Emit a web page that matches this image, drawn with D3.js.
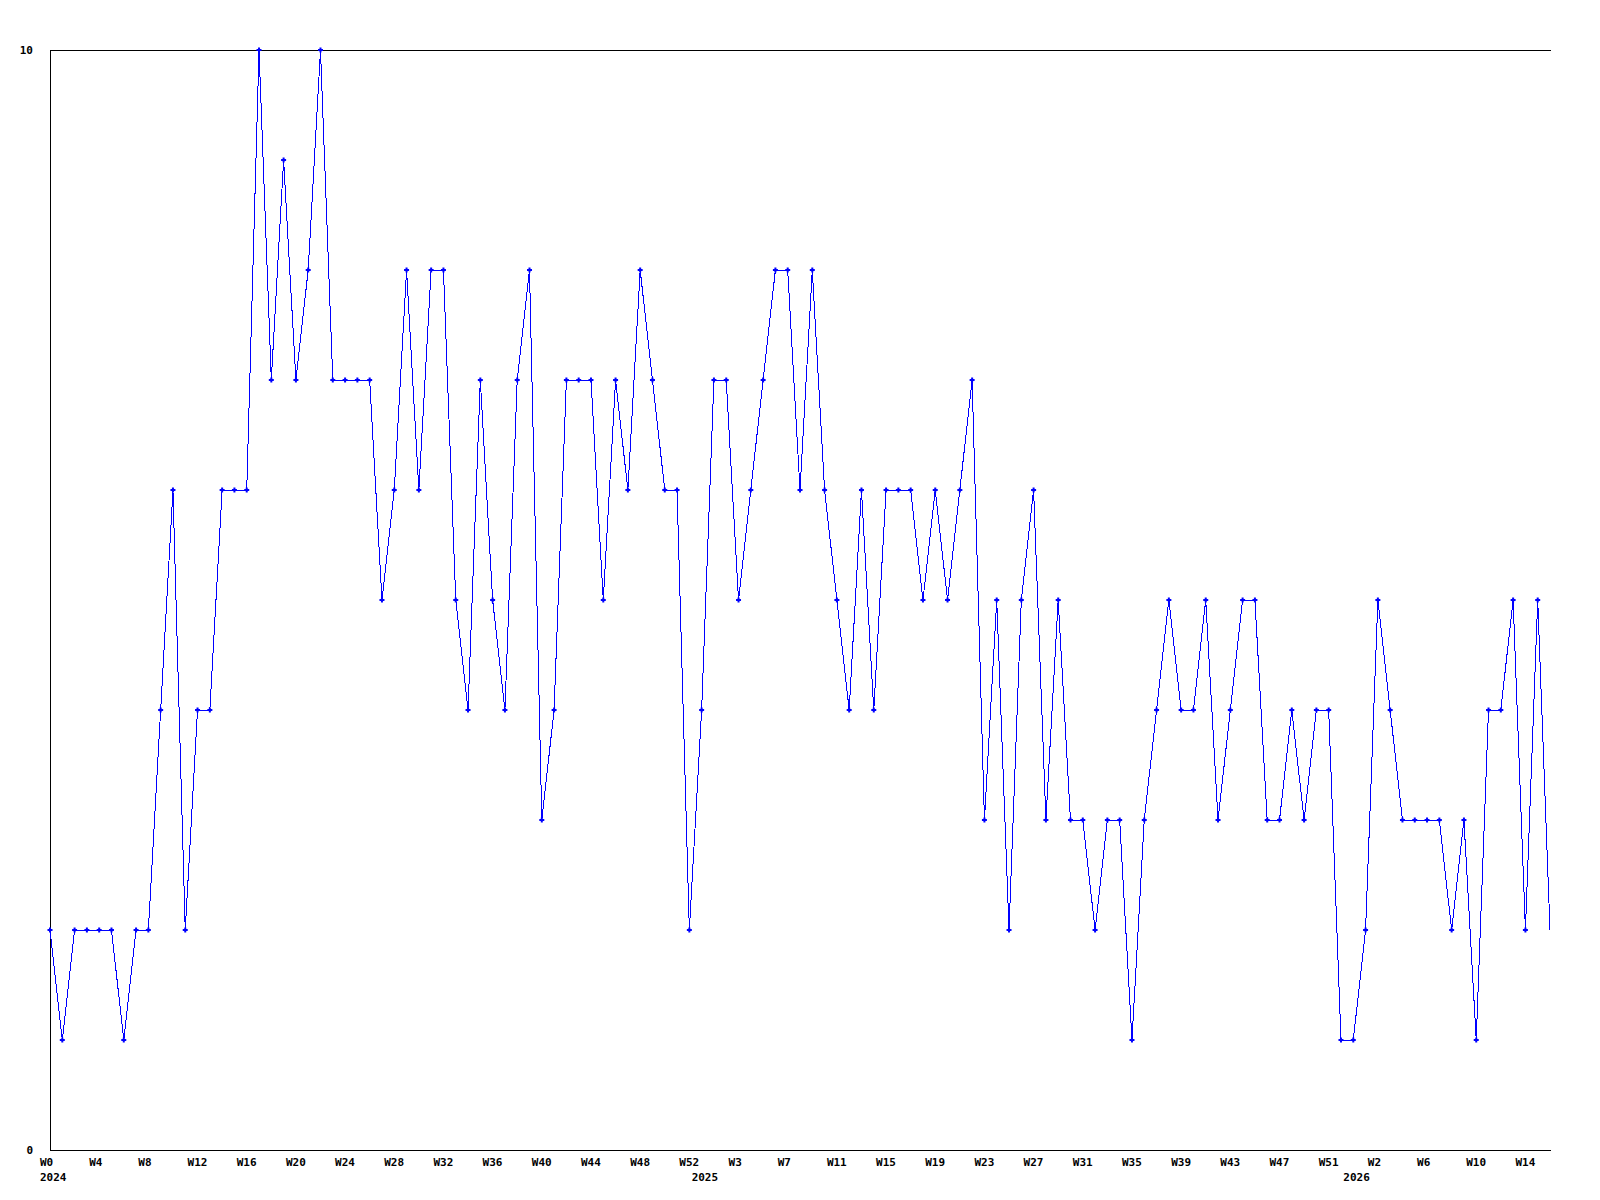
<!DOCTYPE html>
<html>
<head>
<meta charset="utf-8">
<script src="https://cdn.jsdelivr.net/npm/d3@7"></script>
<style>
  html, body { margin: 0; padding: 0; background: #fff; }
  svg { display: block; }
  text { font-family: "DejaVu Sans Mono", "Liberation Mono", monospace; font-weight: bold; font-size: 11px; fill: #000; }
</style>
</head>
<body>
<svg id="chart" width="1600" height="1200"></svg>
<script>
// ---- data ----
const years = ["2024", "2025", "2026"];
const weeksPerYear = [53, 53, 17];
const values = [
  2, 1, 2, 2, 2, 2, 1, 2, 2, 4, 6, 2, 4, 4, 6, 6, 6, 10, 7, 9,
  7, 8, 10, 7, 7, 7, 7, 5, 6, 8, 6, 8, 8, 5, 4, 7, 5, 4, 7, 8,
  3, 4, 7, 7, 7, 5, 7, 6, 8, 7, 6, 6, 2,
  4, 7, 7, 5, 6, 7, 8, 8, 6, 8, 6, 5, 4, 6, 4, 6, 6, 6, 5, 6,
  5, 6, 7, 3, 5, 2, 5, 6, 3, 5, 3, 3, 2, 3, 3, 1, 3, 4, 5, 4,
  4, 5, 3, 4, 5, 5, 3, 3, 4, 3, 4, 4, 1,
  1, 2, 5, 4, 3, 3, 3, 3, 2, 3, 1, 4, 4, 5, 2, 5, 2
];
const tickLabels = ["W0","W4","W8","W12","W16","W20","W24","W28","W32","W36","W40","W44","W48","W52",
  "W3","W7","W11","W15","W19","W23","W27","W31","W35","W39","W43","W47","W51",
  "W2","W6","W10","W14"];
const yTickLabels = ["0", "10"];
const yDomain = [0, 10];

// ---- build categories ----
const categories = [];
years.forEach((yr, yi) => {
  for (let w = 0; w < weeksPerYear[yi]; w++) categories.push({ key: yr + "-W" + w, year: yr, week: w });
});
const data = categories.map((c, i) => ({ key: c.key, year: c.year, week: c.week, value: values[i] }));

// ---- layout ----
const plotLeft = 50, plotRight = 1550, plotTop = 50, plotBottom = 1150;
const svg = d3.select("#chart");

const x = d3.scalePoint().domain(categories.map(c => c.key)).range([plotLeft, plotRight]);
const y = d3.scaleLinear().domain(yDomain).range([plotBottom, plotTop]);

// frame: left, top, bottom
const frame = svg.append("g").attr("shape-rendering", "crispEdges").attr("stroke", "#000").attr("stroke-width", 1);
frame.append("line").attr("x1", plotLeft + 0.5).attr("x2", plotLeft + 0.5).attr("y1", plotTop).attr("y2", plotBottom + 1);
frame.append("line").attr("x1", plotLeft).attr("x2", plotRight + 1).attr("y1", y(yDomain[1]) + 0.5).attr("y2", y(yDomain[1]) + 0.5);
frame.append("line").attr("x1", plotLeft).attr("x2", plotRight + 1).attr("y1", y(yDomain[0]) + 0.5).attr("y2", y(yDomain[0]) + 0.5);

// y labels
svg.append("g").selectAll("text").data(yTickLabels).join("text")
  .attr("x", 33).attr("y", d => y(+d) + 4)
  .attr("text-anchor", "end")
  .text(d => d);

// x tick labels (every 4th week)
const tickCats = categories.filter((c, i) => i % 4 === 0);
svg.append("g").selectAll("text").data(tickCats).join("text")
  .attr("x", d => x(d.key) - 10).attr("y", plotBottom + 16)
  .text((d, i) => tickLabels[i]);

// year labels at first week of each year
const yearCats = years.map(yr => categories.find(c => c.year === yr));
svg.append("g").selectAll("text").data(yearCats).join("text")
  .attr("x", d => x(d.key) - 10).attr("y", plotBottom + 31)
  .text(d => d.year);

// line
const line = d3.line().x(d => x(d.key)).y(d => y(d.value));
svg.append("path").datum(data)
  .attr("d", line)
  .attr("fill", "none")
  .attr("stroke", "#0000ff")
  .attr("stroke-width", 1)
  .attr("shape-rendering", "crispEdges");

// markers (all but last point)
svg.append("g").selectAll("path").data(data.slice(0, -1)).join("path")
  .attr("transform", d => `translate(${x(d.key)},${y(d.value)})`)
  .attr("d", "M-2.5,0H2.5M0,-2.5V2.5")
  .attr("stroke", "#0000ff")
  .attr("stroke-width", 2)
  .attr("fill", "none");
</script>
</body>
</html>
